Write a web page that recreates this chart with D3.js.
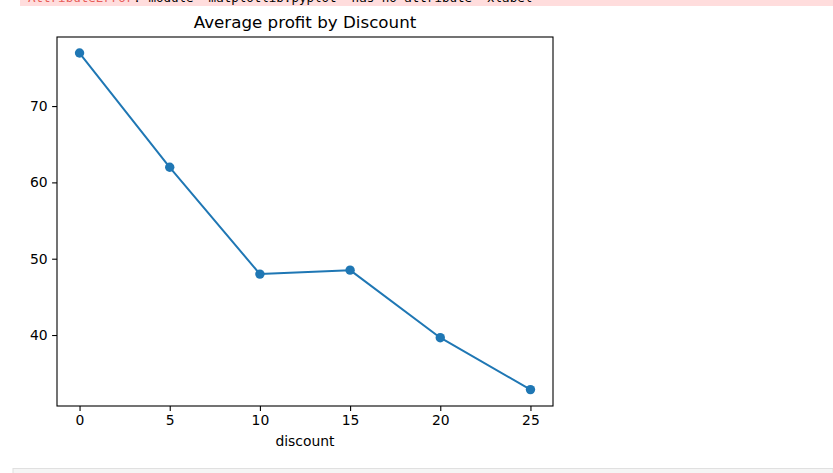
<!DOCTYPE html>
<html><head><meta charset="utf-8">
<script src="https://cdn.jsdelivr.net/npm/d3@7"></script>
<style>
body{margin:0;background:#fff;}
svg{display:block;}
</style></head>
<body>
<svg id="chart" width="833" height="473"></svg>
<script>
const discounts = [0, 5, 10, 15, 20, 25];
const avgProfit = [76.95, 61.98, 47.98, 48.5, 39.65, 32.85];
const xTicks = [0, 5, 10, 15, 20, 25];
const yTicks = [40, 50, 60, 70];
const title = "Average profit by Discount";
const xLabel = "discount";
const errorType = "AttributeError";
const errorMsg = ": module 'matplotlib.pyplot' has no attribute 'xlabel'";

const svg = d3.select("#chart");
const font = "DejaVu Sans, sans-serif";

// error banner at top (cut off in the reference)
svg.append("rect").attr("x", 20).attr("y", 0).attr("width", 813).attr("height", 6).attr("fill", "#fdd");
const et = svg.append("text").attr("x", 28).attr("y", 1.5).attr("font-family", "DejaVu Sans Mono, monospace").attr("font-size", 12.5);
et.append("tspan").attr("fill", "#e75c58").text(errorType);
et.append("tspan").attr("fill", "#000").text(errorMsg);

// bottom grey band
svg.append("rect").attr("x", 13).attr("y", 468.5).attr("width", 820).attr("height", 10).attr("fill", "#f5f5f5").attr("stroke", "#e0e0e0");

const L = 57, R = 553, T = 37, B = 406;
const x = d3.scaleLinear().domain([-1.25, 26.25]).range([L, R]);
const y = d3.scaleLinear().domain([30.7, 79.05]).range([B, T]);

const data = discounts.map((d, i) => ({x: d, y: avgProfit[i]}));

const line = d3.line().x(d => x(d.x)).y(d => y(d.y));
svg.append("path").datum(data).attr("d", line).attr("fill", "none")
  .attr("stroke", "#1f77b4").attr("stroke-width", 2).attr("stroke-linejoin", "round");
svg.append("g").selectAll("circle").data(data).join("circle")
  .attr("cx", d => x(d.x)).attr("cy", d => y(d.y)).attr("r", 4.7).attr("fill", "#1f77b4");

// axes
const xAxis = d3.axisBottom(x).tickValues(xTicks).tickSize(4.9).tickPadding(4.5).tickFormat(d3.format("d"));
const gx = svg.append("g").attr("transform", `translate(0,${B})`).call(xAxis);
const yAxis = d3.axisLeft(y).tickValues(yTicks).tickSize(4.9).tickPadding(4.5).tickFormat(d3.format("d"));
const gy = svg.append("g").attr("transform", `translate(${L},0)`).call(yAxis);
[gx, gy].forEach(g => {
  g.select(".domain").remove();
  g.selectAll(".tick line").attr("stroke", "#000").attr("stroke-width", 1.1);
  g.selectAll(".tick text").attr("fill", "#000").attr("font-family", font).attr("font-size", 13.9);
});

svg.append("rect").attr("x", L).attr("y", T).attr("width", R - L).attr("height", B - T)
  .attr("fill", "none").attr("stroke", "#000").attr("stroke-width", 1.1);

svg.append("text").attr("x", (L + R) / 2).attr("y", 28).attr("text-anchor", "middle")
  .attr("font-family", font).attr("font-size", 16.7).attr("fill", "#000").text(title);
svg.append("text").attr("x", (L + R) / 2).attr("y", 446).attr("text-anchor", "middle")
  .attr("font-family", font).attr("font-size", 13.9).attr("fill", "#000").text(xLabel);
</script>
</body></html>
